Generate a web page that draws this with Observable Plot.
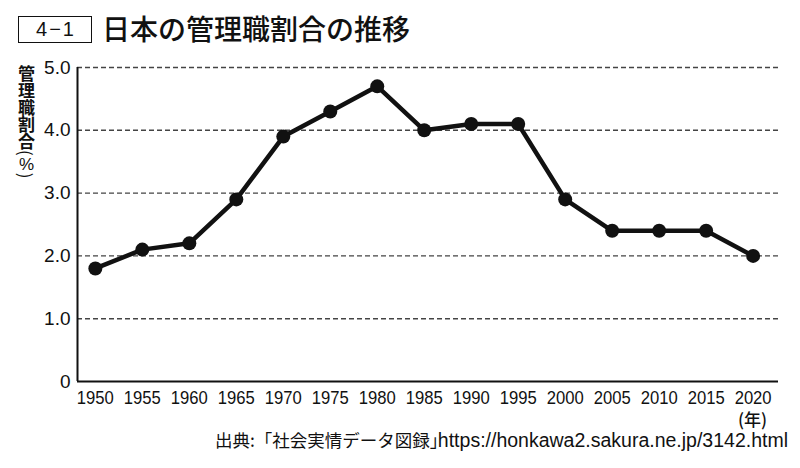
<!DOCTYPE html>
<html><head><meta charset="utf-8">
<script src="https://cdn.jsdelivr.net/npm/d3@7"></script>
<script src="https://cdn.jsdelivr.net/npm/@observablehq/plot@0.6"></script>
<style>
html,body{margin:0;padding:0;background:#fff;}
#wrap{position:relative;width:800px;height:468px;overflow:hidden;font-family:"Noto Sans CJK JP",sans-serif;color:#111;}
#box{position:absolute;left:18px;top:16px;width:72px;height:25px;border:1.5px solid #111;font-family:"Liberation Sans",Arial,sans-serif;font-size:20px;line-height:25px;text-align:center;letter-spacing:2px;text-indent:2px;}
#title{position:absolute;left:102px;top:7px;font-size:28px;font-weight:500;line-height:42px;white-space:nowrap;}
#ylab{position:absolute;left:15px;top:65px;writing-mode:vertical-rl;text-orientation:mixed;font-size:17px;line-height:22px;font-weight:700;white-space:nowrap;}
#ylab .tcu{text-combine-upright:all;font-weight:400;font-family:"Liberation Sans",Arial,sans-serif;}
#ylab .p{font-weight:400;}
#unit{position:absolute;left:738px;top:410px;font-size:17px;line-height:17px;font-weight:500;}
#capj{position:absolute;left:215px;top:430px;font-size:17.5px;line-height:20px;font-weight:400;white-space:nowrap;}
#capu{position:absolute;right:12px;top:430px;font-family:"Liberation Sans",Arial,sans-serif;font-size:19.5px;line-height:20px;white-space:nowrap;}
#chart{position:absolute;left:0;top:0;}
</style></head>
<body><div id="wrap">
<div id="chart"></div>
<div id="box">4−1</div>
<div id="title">日本の管理職割合の推移</div>
<div id="ylab">管理職割合<span class="p">(</span><span class="tcu">%</span><span class="p">)</span></div>
<div id="unit">(年)</div>
<div id="capj">出典:「社会実情データ図録」</div>
<div id="capu">https://honkawa2.sakura.ne.jp/3142.html</div>
</div>
<script>
const years = [1950,1955,1960,1965,1970,1975,1980,1985,1990,1995,2000,2005,2010,2015,2020];
const ratios = [1.8,2.1,2.2,2.9,3.9,4.3,4.7,4.0,4.1,4.1,2.9,2.4,2.4,2.4,2.0];
const yTicks = [0,1,2,3,4,5];
const data = years.map((y,i)=>({year:y, value:ratios[i]}));
const xMin = 1948.1, xMax = 2022.7;
const font = '"Liberation Sans", Arial, sans-serif';

const chart = Plot.plot({
  width: 800, height: 468,
  marginLeft: 77, marginRight: 22, marginTop: 67, marginBottom: 87,
  style: {fontFamily: font, color: "#111", background: "transparent"},
  x: {domain: [xMin, xMax], axis: null},
  y: {domain: [0, 5], axis: null},
  marks: [
    Plot.ruleY([1,2,3,4,5], {x1: xMin, x2: xMax, stroke: "#444", strokeWidth: 1.4, strokeDasharray: "5,3"}),
    Plot.ruleY([0], {x1: xMin, x2: xMax, stroke: "#111", strokeWidth: 2}),
    Plot.ruleX([xMin], {y1: 0, y2: 5, stroke: "#111", strokeWidth: 2}),
    Plot.text(yTicks, {x: xMin, y: d => d, text: d => d === 0 ? "0" : d.toFixed(1), textAnchor: "end", dx: -7, fontSize: 19, fill: "#111"}),
    Plot.text(years, {x: d => d, y: 0, text: d => String(d), dy: 16, fontSize: 19, fill: "#111", lineAnchor: "middle"}),
    Plot.line(data, {x: "year", y: "value", stroke: "#111", strokeWidth: 4.5, strokeLinejoin: "round"}),
    Plot.dot(data, {x: "year", y: "value", r: 7, fill: "#111"})
  ]
});
document.getElementById("chart").appendChild(chart);
const yearSet = new Set(years.map(String));
d3.select(chart).selectAll("text").each(function() {
  if (yearSet.has(this.textContent.trim())) {
    d3.select(this).attr("textLength", 37).attr("lengthAdjust", "spacingAndGlyphs");
  }
});
</script>
</body></html>
